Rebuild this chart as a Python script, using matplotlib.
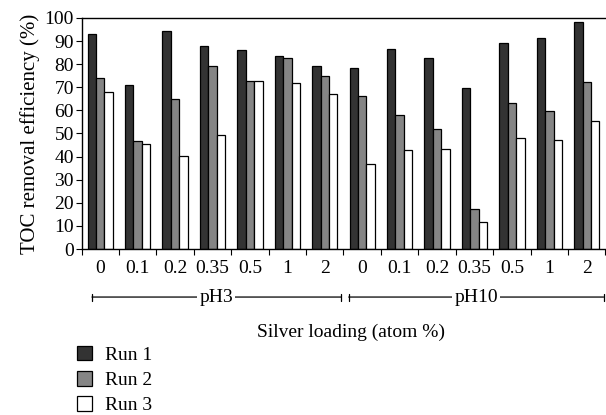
import matplotlib.pyplot as plt
from matplotlib.patches import Patch
import numpy as np

loadings = ['0', '0.1', '0.2', '0.35', '0.5', '1', '2',
            '0', '0.1', '0.2', '0.35', '0.5', '1', '2']
run1 = [93, 70.8, 94.2, 88, 86.1, 83.6, 79.3,
        78.4, 86.7, 82.5, 69.6, 89.3, 91.3, 98.1]
run2 = [74, 46.7, 65.1, 79.3, 72.6, 82.5, 74.8,
        66.1, 57.9, 52.1, 17.4, 63, 59.9, 72.1]
run3 = [67.9, 45.4, 40.2, 49.5, 72.9, 71.8, 67.1,
        36.6, 42.7, 43.1, 11.7, 48, 47, 55.3]
runs = ['Run 1', 'Run 2', 'Run 3']
colores = ['#333333', '#858585', 'white']

plt.rcParams['font.family'] = ['Liberation Serif', 'DejaVu Serif']
fs = 14

fig = plt.figure(figsize=(6.06, 4.15), dpi=100)
ax = fig.add_axes([81.5 / 606, 1 - 249 / 415, 524 / 606, 231 / 415])

x = np.arange(len(loadings))
w = 0.225
for i, (vals, c) in enumerate(zip([run1, run2, run3], colores)):
    ax.bar(x + (i - 1) * w, vals, w, color=c, edgecolor='black', linewidth=0.9)

ax.set_xlim(-0.5, len(loadings) - 0.5)
ax.set_ylim(0, 100)
ax.set_yticks(range(0, 101, 10))
ax.set_xticks(np.arange(-0.5, len(loadings), 1))
ax.set_xticklabels([])
ax.set_xticks(x, minor=True)
ax.set_xticklabels(loadings, minor=True)
ax.tick_params(axis='x', which='minor', length=0, pad=8, labelsize=fs)
ax.tick_params(axis='x', which='major', length=4, direction='out')
ax.tick_params(axis='y', length=4, direction='out', labelsize=fs, pad=1.5)
ax.spines['right'].set_visible(False)
for s in ['left', 'bottom', 'top']:
    ax.spines[s].set_linewidth(1)
ax.set_ylabel('TOC removal efficiency (%)', fontsize=15, labelpad=3)

# pH group brackets
trans = ax.get_xaxis_transform()
yb = -0.208
for lo, hi, txt in [(-0.22, 6.43, 'pH3'), (6.64, 13.45, 'pH10')]:
    mid = (lo + hi) / 2
    ax.annotate('', xy=(lo, yb), xytext=(hi, yb), xycoords=trans, textcoords=trans,
                arrowprops=dict(arrowstyle='|-|,widthA=0.25,widthB=0.25', lw=0.9,
                                color='black', shrinkA=0, shrinkB=0))
    ax.text(mid, yb, txt, transform=trans, ha='center', va='center', fontsize=fs,
            bbox=dict(facecolor='white', edgecolor='none', pad=1.5), clip_on=False)

fig.text(351 / 606, 1 - 332 / 415, 'Silver loading (atom %)', ha='center', va='center',
         fontsize=fs)

handles = [Patch(facecolor=c, edgecolor='black', linewidth=0.9) for c in colores]
fig.legend(handles, runs, loc='upper left', bbox_to_anchor=(77 / 606, 1 - 346 / 415),
           frameon=False, fontsize=fs, handlelength=0.77, handleheight=0.77,
           handletextpad=0.65, labelspacing=0.36, borderaxespad=0, borderpad=0)

fig.savefig('out.png', dpi=100)
